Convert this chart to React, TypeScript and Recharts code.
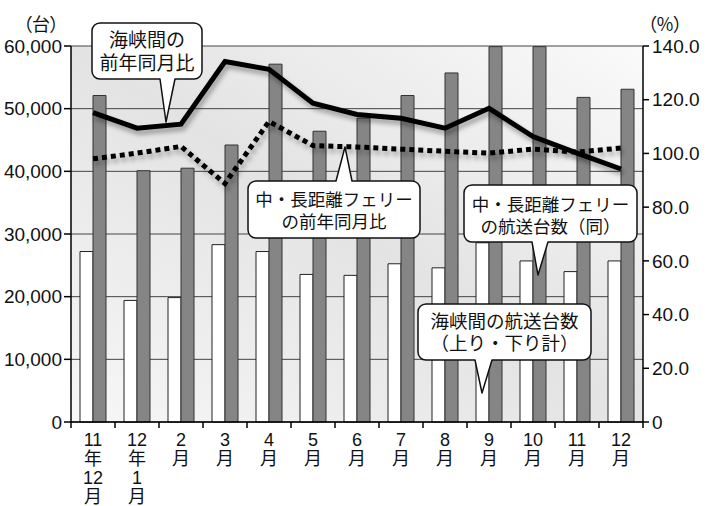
import { ComposedChart, Bar, Line, XAxis, YAxis, CartesianGrid } from "recharts";

// category labels, one entry per stacked line under the axis
const MONTHS = [
  ["11", "年", "12", "月"],
  ["12", "年", "1", "月"],
  ["2", "月"],
  ["3", "月"],
  ["4", "月"],
  ["5", "月"],
  ["6", "月"],
  ["7", "月"],
  ["8", "月"],
  ["9", "月"],
  ["10", "月"],
  ["11", "月"],
  ["12", "月"],
];

// 海峡間の航送台数（上り・下り計）
const STRAIT_VEHICLES = [27200, 19400, 19850, 28300, 27200, 23550, 23400, 25250, 24600, 28600, 25700, 24000, 25700];
// 中・長距離フェリーの航送台数
const FERRY_VEHICLES = [52100, 40100, 40500, 44200, 57100, 46400, 48500, 52100, 55700, 59900, 59900, 51800, 53100];
// 前年同月比 (%)
const STRAIT_YOY = [115.2, 109.4, 110.9, 134.2, 131.3, 118.7, 114.5, 113.1, 109.4, 116.8, 106.3, 100.1, 94.2];
const FERRY_YOY = [98.0, 100.1, 102.6, 88.8, 111.9, 102.9, 102.4, 101.6, 100.8, 100.1, 101.6, 100.5, 102.0];

const VEHICLE_TICKS = [0, 10000, 20000, 30000, 40000, 50000, 60000];
const RATIO_TICKS = [0, 20, 40, 60, 80, 100, 120, 140];

const W = 718;
const H = 506;
const PLOT_LEFT = 71;
const PLOT_RIGHT = 643;
const PLOT_TOP = 46;
const PLOT_BOTTOM = 422;
const HALF_BAND = (PLOT_RIGHT - PLOT_LEFT) / MONTHS.length / 2;

const NUM_FONT = "'Liberation Sans', Arial, 'Noto Sans CJK JP', sans-serif";
const JP_FONT = "'Noto Sans CJK JP', 'Noto Sans', sans-serif";

const data = MONTHS.map((m, i) => ({
  month: m.join(""),
  strait: STRAIT_VEHICLES[i],
  ferry: FERRY_VEHICLES[i],
  straitYoy: STRAIT_YOY[i],
  ferryYoy: FERRY_YOY[i],
}));

function MonthTick(props: any) {
  const { x, y, payload } = props;
  const i = payload?.index ?? props.index;
  const lines = MONTHS[i] || [];
  return (
    <g>
      <line x1={x - HALF_BAND} x2={x - HALF_BAND} y1={y} y2={y + 6} stroke="#000" strokeWidth={1.5} />
      {i === MONTHS.length - 1 && (
        <line x1={x + HALF_BAND} x2={x + HALF_BAND} y1={y} y2={y + 6} stroke="#000" strokeWidth={1.5} />
      )}
      <text textAnchor="middle" fontSize={18} fill="#111" fontFamily={NUM_FONT}>
        {lines.map((t: string, k: number) => (
          <tspan key={k} x={x} y={y + 24 + k * 19}>
            {t}
          </tspan>
        ))}
      </text>
    </g>
  );
}

type Callout = {
  x: number;
  y: number;
  w: number;
  h: number;
  side: "top" | "bottom";
  base: [number, number];
  tip: [number, number];
  lines: string[];
  lineY: number[];
  size: number;
};

const CALLOUTS: Callout[] = [
  { x: 92, y: 23, w: 110, h: 56, side: "bottom", base: [160, 175], tip: [166, 122], lines: ["海峡間の", "前年同月比"], lineY: [47, 70], size: 19 },
  { x: 248, y: 181, w: 172, h: 57, side: "top", base: [336, 352], tip: [345, 147], lines: ["中・長距離フェリー", "の前年同月比"], lineY: [206, 228], size: 17.5 },
  { x: 464, y: 185, w: 173, h: 57, side: "bottom", base: [532, 548], tip: [538, 275], lines: ["中・長距離フェリー", "の航送台数（同）"], lineY: [211, 233], size: 17.5 },
  { x: 418, y: 304, w: 173, h: 56, side: "bottom", base: [475, 492], tip: [482, 393], lines: ["海峡間の航送台数", "（上り・下り計）"], lineY: [328, 350], size: 18.5 },
];

function calloutPath(c: Callout) {
  const r = 8;
  const { x, y, w, h } = c;
  const [b1, b2] = c.base;
  const [tx, ty] = c.tip;
  const top =
    c.side === "top"
      ? `L${b1},${y} L${tx},${ty} L${b2},${y} L${x + w - r},${y}`
      : `L${x + w - r},${y}`;
  const bottom =
    c.side === "bottom"
      ? `L${b2},${y + h} L${tx},${ty} L${b1},${y + h} L${x + r},${y + h}`
      : `L${x + r},${y + h}`;
  return [
    `M${x + r},${y}`,
    top,
    `A${r},${r} 0 0 1 ${x + w},${y + r}`,
    `L${x + w},${y + h - r}`,
    `A${r},${r} 0 0 1 ${x + w - r},${y + h}`,
    bottom,
    `A${r},${r} 0 0 1 ${x},${y + h - r}`,
    `L${x},${y + r}`,
    `A${r},${r} 0 0 1 ${x + r},${y}`,
    "Z",
  ].join(" ");
}

export default function App() {
  return (
    <div style={{ position: "absolute", left: 0, top: 0, width: W, height: H, background: "#fff" }}>
      <ComposedChart
        width={W}
        height={H}
        data={data}
        margin={{ top: PLOT_TOP, right: 0, left: 0, bottom: H - PLOT_BOTTOM - 80 }}
        barGap={0}
      >
        <defs>
          <linearGradient id="plotBg" x1="0" y1="1" x2="1" y2="0">
            <stop offset="0%" stopColor="#f7f7f7" />
            <stop offset="50%" stopColor="#e3e3e3" />
            <stop offset="100%" stopColor="#fafafa" />
          </linearGradient>
          <filter id="lineShadow" filterUnits="userSpaceOnUse" x="0" y="0" width={W} height={H}>
            <feDropShadow dx="2" dy="4" stdDeviation="2.5" floodColor="#000" floodOpacity="0.35" />
          </filter>
        </defs>
        <CartesianGrid
          yAxisId="left"
          vertical={false}
          stroke="#444"
          strokeWidth={1}
          fill="url(#plotBg)"
          fillOpacity={1}
        />
        <XAxis
          dataKey="month"
          height={80}
          interval={0}
          tickSize={0}
          tickMargin={0}
          tickLine={false}
          axisLine={{ stroke: "#000", strokeWidth: 1.5 }}
          tick={(p: any) => <MonthTick {...p} />}
        />
        <YAxis
          yAxisId="left"
          width={PLOT_LEFT}
          domain={[0, 60000]}
          ticks={VEHICLE_TICKS}
          interval={0}
          tickSize={7}
          tickMargin={2}
          tickLine={{ stroke: "#000", strokeWidth: 1.5 }}
          axisLine={{ stroke: "#000", strokeWidth: 1.5 }}
          tick={{ fill: "#111", fontSize: 19, fontFamily: NUM_FONT }}
          tickFormatter={(v: number) => v.toLocaleString("en-US")}
        />
        <YAxis
          yAxisId="right"
          orientation="right"
          width={W - PLOT_RIGHT}
          domain={[0, 140]}
          ticks={RATIO_TICKS}
          interval={0}
          tickSize={6}
          tickMargin={3}
          tickLine={{ stroke: "#000", strokeWidth: 1.5 }}
          axisLine={{ stroke: "#000", strokeWidth: 1.5 }}
          tick={{ fill: "#111", fontSize: 19, fontFamily: NUM_FONT, textAnchor: "start" }}
          tickFormatter={(v: number) => (v === 0 ? "0" : v.toFixed(1))}
        />
        <Bar yAxisId="left" dataKey="strait" barSize={13} fill="#fff" stroke="#222" strokeWidth={1} isAnimationActive={false} />
        <Bar yAxisId="left" dataKey="ferry" barSize={13} fill="#858585" stroke="#333" strokeWidth={1} isAnimationActive={false} />
        <Line
          yAxisId="right"
          dataKey="ferryYoy"
          stroke="#000"
          strokeWidth={5}
          strokeDasharray="5 4"
          dot={false}
          activeDot={false}
          filter="url(#lineShadow)"
          isAnimationActive={false}
        />
        <Line
          yAxisId="right"
          dataKey="straitYoy"
          stroke="#000"
          strokeWidth={5}
          dot={false}
          activeDot={false}
          filter="url(#lineShadow)"
          isAnimationActive={false}
        />
      </ComposedChart>

      <svg width={W} height={H} style={{ position: "absolute", left: 0, top: 0, pointerEvents: "none" }}>
        <text x={41} y={31} textAnchor="middle" fontSize={18} fontFamily={JP_FONT} fill="#111" style={{ fontFeatureSettings: "'palt'" }}>
          （台）
        </text>
        <text x={665} y={31} textAnchor="middle" fontSize={18} fontFamily={JP_FONT} fill="#111" style={{ fontFeatureSettings: "'palt'" }}>
          （%）
        </text>
        {CALLOUTS.map((c, i) => (
          <g key={i}>
            <path d={calloutPath(c)} fill="#fff" stroke="#111" strokeWidth={1.5} strokeLinejoin="round" />
            {/* both lines in one text element so they stay a single block */}
            <text textAnchor="middle" fontSize={c.size} fontFamily={JP_FONT} fill="#111">
              {c.lines.map((t, k) => (
                <tspan key={k} x={c.x + c.w / 2} y={c.lineY[k]}>
                  {t}
                </tspan>
              ))}
            </text>
          </g>
        ))}
      </svg>
    </div>
  );
}
